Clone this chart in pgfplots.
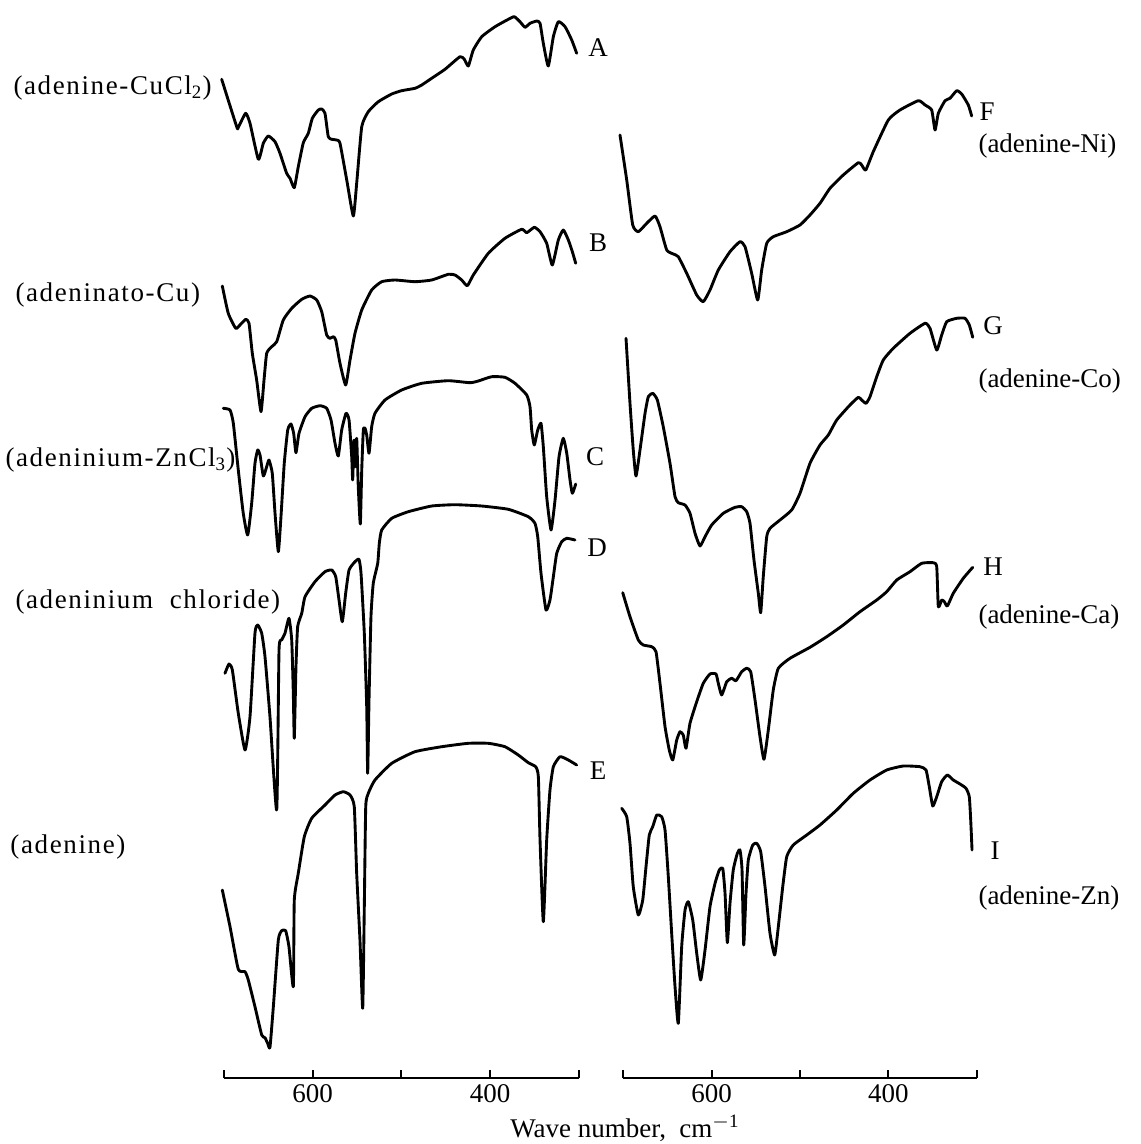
\documentclass[border=0pt]{standalone}
\usepackage{pgfplots}
\pgfplotsset{compat=1.18}
\usepackage{fontspec}
\setmainfont{Liberation Serif}
\newfontfamily\lab[LetterSpace=6]{Liberation Serif}
\newfontfamily\labr{Liberation Serif}
\newcommand{\lf}{\lab\fontsize{10.8}{12}\selectfont}
\newcommand{\lr}{\labr\fontsize{10.8}{12}\selectfont}

\pgfplotstableread{
wn y
702.6 -79.3
685.7 -126.7
683.9 -127.3
675.6 -113.3
670.7 -123.3
661.3 -159.3
655.7 -143.3
650.1 -136
642.5 -141.7
636.9 -153.3
629.4 -173.3
625.6 -178.3
620.8 -187.7
616.3 -166.7
610.6 -142.7
605 -133.3
600.5 -118.3
593.7 -110
589.9 -109
586.2 -113.3
582.5 -136.7
578.6 -139.3
573 -140
569.3 -143.3
561.7 -180
554.3 -216
550.5 -183.3
544.8 -126.7
537.4 -111.7
526.1 -101.7
511 -94
499.8 -90.7
484.8 -88.3
477.2 -85
466 -78.3
451 -69.3
434.1 -56.7
429.2 -59.3
424.7 -66
419.1 -50
409.6 -36.7
394.6 -26.7
379.6 -19.3
372.9 -16.7
366.5 -21.7
360.8 -27.3
355.2 -23.3
347.6 -21
343.9 -23.3
340.2 -43.3
334.6 -66
328.9 -36.7
323.3 -21.7
315.7 -26.7
308.2 -40
302.6 -53.3
}\specA

\pgfplotstableread{
wn y
701.9 -286
695.2 -313.3
686.8 -328.3
682 -325
675.5 -319.3
671.8 -323.3
668.1 -353.3
663.2 -380
658.3 -411.7
654.9 -380
651.9 -353.3
646.3 -346.7
640.6 -341.7
633.2 -320
623.7 -308.3
612.4 -299.3
603.1 -296
595.5 -300
589.9 -311.7
584.3 -335
580.6 -338.3
576.8 -336.7
574.1 -340
569.3 -363.3
562.9 -385
558 -360
552.4 -333.3
544.8 -310
533.6 -290
522.3 -281.7
507.3 -280
484.8 -281.7
466 -280
447.3 -274.3
439.7 -275
432.2 -280
425.8 -285.7
419.1 -275
402.2 -253.3
383.4 -238.3
364.6 -229.3
358.9 -232.7
350.4 -227.3
343.9 -231.7
336.4 -243.3
330.1 -265
323.3 -240
317.7 -230
312 -240
307.5 -251.7
303.7 -263.3
}\specB

\pgfplotstableread{
wn y
700.8 -408.3
693.2 -410
689.5 -423.3
683.9 -470
678.3 -513.3
673.3 -535
668.8 -503.3
665.1 -463.3
662 -450
659.4 -455
655.7 -476
651.9 -466.7
649.3 -460
645.6 -473.3
642.5 -513.3
638.8 -551.7
635.8 -516.7
632.1 -463.3
628.2 -430
624.5 -424
621.5 -433.3
618.9 -452.7
615.5 -433.3
608.7 -416.7
601.2 -408.3
591.8 -405.7
584.3 -408.3
579.4 -420
574.9 -443.3
571.2 -456
567.4 -430
562.5 -413.3
559.1 -420
556.1 -456.7
555 -480
553.5 -440
552.1 -466.7
550.5 -438.3
548.7 -486.7
546.4 -524
544.8 -470
543 -430
541.1 -428.3
539.2 -435
536.6 -453.3
533.6 -426.7
529.9 -413.3
518.6 -400
499.8 -390
477.2 -383.3
447.3 -380.7
422.8 -382.7
413.5 -381
398.4 -376.7
383.4 -377.3
372.1 -383.3
358.9 -395
355.2 -406.7
353.3 -430
350.4 -445
346.5 -430
342.8 -423.3
340.2 -446.7
336.4 -496.7
331.5 -530
327 -500
322.5 -456.7
317.7 -438.3
313.8 -453.3
310.1 -480
307.5 -493.3
303.7 -484
}\specC

\pgfplotstableread{
wn y
698.9 -673.3
694.4 -664
690.6 -670
683.9 -713.3
676.3 -750
670.7 -716.7
665.1 -633.3
662 -625
657.5 -633.3
653.8 -656.7
648.2 -716.7
640.6 -810
638 -650
635 -640
631.3 -633.3
626.8 -618.3
623.7 -640
621.9 -693.3
620.8 -738.3
618.9 -666.7
617 -626.7
612.4 -613.3
608.7 -596.7
597.5 -581.7
586.2 -571.7
578.6 -570
574.1 -576.7
570.4 -600
566.7 -621.7
562.9 -593.3
559.1 -570
552.4 -561.7
547.9 -559.3
545.6 -573.3
541.9 -633.3
539.2 -706.7
538.1 -773.3
536.6 -700
534.4 -616.7
531.8 -583.3
526.8 -563.3
525 -543.3
522.3 -530
511 -518.3
492.3 -511.7
466 -506
439.7 -504.7
409.6 -506
379.6 -509.3
357.1 -516.7
349.6 -523.3
346.5 -536.7
342.8 -573.3
337.2 -610
332.7 -600
328.9 -576.7
325.1 -553.3
319.5 -541.7
313.8 -538.3
304.5 -540
}\specD

\pgfplotstableread{
wn y
701.9 -890
693.2 -926.7
683.9 -969.3
676.3 -971.7
672.6 -980
665.1 -1006.7
657.5 -1035
653.8 -1037.7
650.8 -1043.3
648.2 -1047.3
644.4 -1006.7
638.8 -940
635 -930.7
630.5 -930.7
626.8 -946.7
621.9 -986.7
620.8 -900
616.3 -873.3
609.5 -836.7
601.2 -818.3
586.2 -805
574.9 -795
565.6 -791.7
558 -795
553.2 -806.7
550.5 -873.3
546.8 -940
543.7 -1008.3
541.9 -906.7
540.3 -806.7
537.4 -793.3
529.9 -780
511 -763.3
484.8 -751.7
454.7 -746.7
424.7 -743.3
402.2 -743.3
383.4 -746.7
368.4 -755
357.1 -762.7
348.8 -766.7
345.8 -776.7
343.9 -840
340.2 -921.7
336.4 -840
332.7 -790
328.9 -766.7
321.4 -756.7
312 -760
302.6 -765
}\specE

\pgfplotstableread{
wn y
703.4 -135
695.8 -180
689 -225
682.7 -231.7
673.2 -223.3
663.8 -216
658.2 -226.7
650.6 -250
643.2 -254
637.5 -256.7
628 -273.3
616.7 -295
609.3 -301.7
601.7 -290
592.3 -270
579.1 -251.7
567.8 -241.7
562.1 -246.7
554.6 -273.3
547.8 -300
543.3 -270
537.6 -243.3
530.2 -236.7
515 -231.7
500 -225
488.7 -215
477.4 -203.3
466.1 -188.3
451.1 -175
434.1 -162.7
430.3 -165
425.7 -170
417.2 -151.7
400.2 -120
387 -110
366.3 -100.7
358.7 -105
351.2 -110
347.4 -130
343.7 -113.3
336.1 -100.7
330.5 -98.3
322.9 -90.7
317.3 -94
309.8 -105
306 -116
}\specF

\pgfplotstableread{
wn y
696.6 -338.3
692.1 -403.3
688.4 -450
685.3 -476
680.8 -450
675.1 -413.3
671.4 -396.7
666.4 -393.3
661.2 -400
654.5 -426.7
646.9 -463.3
641.2 -496.7
637.5 -502.7
629.9 -505
624.3 -513.3
618.6 -533.3
613 -546
607.3 -536.7
599.8 -525
586.7 -513.3
573.4 -507.3
565.9 -506.7
560.2 -511.7
556.5 -523.3
552 -560
547.1 -593.3
544.4 -612.7
541.5 -576.7
537.6 -536.7
533.9 -528.3
522.6 -520
509.4 -510
500 -493.3
488.7 -463.3
477.4 -445
468 -435
458.5 -420
443.5 -405
434.1 -397.3
430.3 -400
425.4 -403.3
420.9 -396.7
413.3 -376.7
405.9 -360
394.6 -348.3
375.7 -333.3
358.7 -323.3
353.1 -328.3
345.5 -350
339.9 -335
334.2 -321.7
322.9 -318.3
313.5 -318.3
308.7 -325
304.8 -337.3
}\specG

\pgfplotstableread{
wn y
700.3 -592.7
692.1 -616.7
682.7 -640
677.1 -645
667.6 -646.7
662.7 -651.7
658.2 -683.3
652.5 -726.7
647.7 -750
643.8 -760
639.3 -740
635.6 -731.7
631.9 -735
628.8 -748.3
624.3 -723.3
616.7 -701.7
609.3 -683.3
601.7 -674
594.9 -674
592.3 -683.3
588.5 -695
582.8 -681.7
577.2 -678.3
572.3 -680.7
565.9 -671.7
560.2 -668.3
555.7 -671.7
550.8 -700
545.2 -736.7
540.7 -759.3
535.8 -730
530.2 -690
524.5 -668.3
511.3 -658.3
488.7 -647.3
469.8 -636.7
451.1 -625
432.2 -611.7
413.3 -600
402 -591.7
390.7 -580
375.7 -571.7
362.5 -563.3
349.4 -562.7
345.5 -566.7
343.7 -606.7
339.9 -600
336.9 -601.7
333.5 -606
326.8 -593.3
315.5 -578.3
304.8 -567.3
}\specH

\pgfplotstableread{
wn y
701.5 -808.3
695.8 -816.7
692.1 -843.3
688.4 -886.7
682.7 -915
677.7 -900
674 -866.7
670.3 -835
666.4 -826.7
661.9 -815
656.3 -816.7
652.5 -830
648.8 -876.7
645 -933.3
641.2 -986.7
637.5 -1023.3
633.7 -946.7
629.9 -910
626.2 -901.7
621.2 -920
616.7 -953.3
612.2 -980
607.3 -950
601.7 -906.7
596 -883.3
591.2 -870
587.3 -868.3
584.7 -893.3
582.1 -942.7
579.1 -903.3
575.4 -870
570.8 -853.3
567.8 -850
565.5 -870
563.6 -945
561 -893.3
558.4 -860
553.4 -845
548.9 -843.3
544.4 -851.7
539.5 -886.7
533.9 -933.3
528.6 -955
524.5 -926.7
519.5 -886.7
515 -856.7
507.6 -845
492.4 -835
477.4 -825
458.5 -810
439.8 -793.3
420.9 -780
402 -770
383.3 -766
364.4 -766.7
357.6 -770
353.9 -786.7
350 -806
345.5 -796.7
339.9 -781.7
333.5 -775
326.8 -780
319.2 -784
312.4 -788.3
308.7 -796.7
307.1 -820
305.6 -850
}\specI

\pgfplotsset{spec/.style={
  scale only axis, width=142pt, height=431.2pt,
  xmin=300, xmax=700, ymin=-1078, ymax=0, x dir=reverse,
  axis y line=none, axis x line*=bottom,
  x axis line style={-, line width=0.8pt},
  xtick={300,400,500,600,700}, xticklabels={,400,,600,},
  tick align=inside, major tick length=3.2pt,
  every tick/.style={black, line width=0.8pt},
  ytick=\empty, clip=false,
  /pgf/number format/assume math mode=true,
  xticklabel style={font=\lr, inner sep=1pt, yshift=-1.5pt},
  cycle list={{black, mark=none}},
  no markers,
  every axis plot post/.append style={black, mark=none, line width=1.15pt, line join=round, line cap=round, smooth, tension=0.3},
}}

\begin{document}
\begin{tikzpicture}
\useasboundingbox (0,0) rectangle (456.4pt,-457.6pt);
\begin{axis}[spec, at={(89.6pt,-431.2pt)}, anchor=south west]
\addplot table {\specA};
\addplot table {\specB};
\addplot table {\specC};
\addplot table {\specD};
\addplot table {\specE};
\end{axis}
\begin{axis}[spec, width=141.6pt, at={(249.2pt,-431.2pt)}, anchor=south west]
\addplot table {\specF};
\addplot table {\specG};
\addplot table {\specH};
\addplot table {\specI};
\end{axis}
% curve names
\node[anchor=west, inner sep=0] at (5.2pt,-35.2pt) {\lf (adenine-CuCl\textsubscript{2})};
\node[anchor=west, inner sep=0] at (6pt,-118pt) {\lf (adeninato-Cu)};
\node[anchor=west, inner sep=0] at (2pt,-184pt) {\lf (adeninium-ZnCl\textsubscript{3})};
\node[anchor=west, inner sep=0] at (6pt,-240.8pt) {\lf (adeninium\ \ chloride)};
\node[anchor=west, inner sep=0] at (4pt,-338.8pt) {\lf (adenine)};
\node[anchor=west, inner sep=0] at (391.2pt,-58.4pt) {\lr (adenine-Ni)};
\node[anchor=west, inner sep=0] at (391.2pt,-152.4pt) {\lr (adenine-Co)};
\node[anchor=west, inner sep=0] at (391.2pt,-246.8pt) {\lr (adenine-Ca)};
\node[anchor=west, inner sep=0] at (391.2pt,-359.2pt) {\lr (adenine-Zn)};
% letters
\node at (239.2pt,-19.2pt) {\lf A};
\node at (239.2pt,-97.2pt) {\lf B};
\node at (238pt,-182.8pt) {\lf C};
\node at (238.8pt,-219.2pt) {\lf D};
\node at (239.2pt,-308.4pt) {\lf E};
\node at (394.8pt,-44.8pt) {\lf F};
\node at (397.2pt,-130.4pt) {\lf G};
\node at (397.2pt,-226.8pt) {\lf H};
\node at (398pt,-340.4pt) {\lf I};
\node[inner sep=0] at (250pt,-451.5pt) {\lr Wave number,\ \ cm\textsuperscript{$-$1}};
\end{tikzpicture}
\end{document}
